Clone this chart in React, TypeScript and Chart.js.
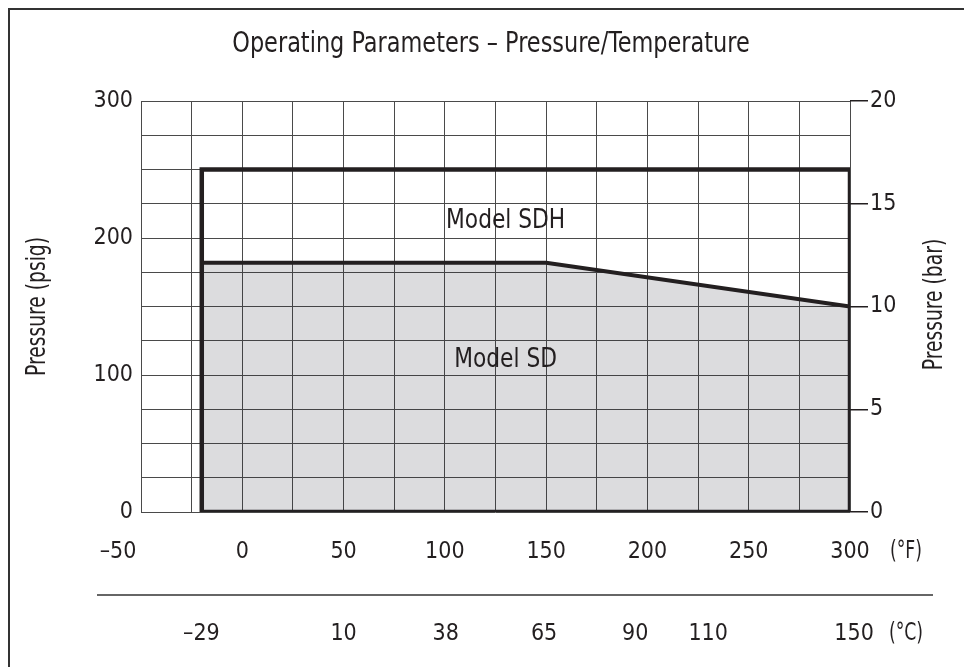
import React, { useEffect, useRef } from 'react';
import { Chart, registerables } from 'chart.js';

Chart.register(...registerables);

const FONT = "'Liberation Sans Narrow', 'DejaVu Sans Condensed', 'Arial Narrow', 'Roboto Condensed', sans-serif";
const INK = '#231f20';
const GRID = '#4a4a4a';

const titleText = 'Operating Parameters – Pressure/Temperature';
const leftAxisTitle = 'Pressure (psig)';
const rightAxisTitle = 'Pressure (bar)';
const fahrenheitUnit = '(°F)';
const celsiusUnit = '(°C)';

// Model SDH envelope (°F, psig)
const sdhTemps = [-20, -20, 300, 300, -20];
const sdhPressures = [0, 250, 250, 0, 0];

// Model SD limit line (°F, psig)
const sdTemps = [-20, 150, 300];
const sdPressures = [182, 182, 150];

// Tick labels
const fahrenheitTicks = [-50, 0, 50, 100, 150, 200, 250, 300];
const celsiusValues = [-29, 10, 38, 65, 90, 110, 150];
const celsiusLabels = ['–29', '10', '38', '65', '90', '110', '150'];
const psigTicks = [0, 100, 200, 300];
const barTicks = [0, 5, 10, 15, 20];

// Region labels
const regionLabels = ['Model SDH', 'Model SD'];
const regionLabelTemps = [130, 130];
const regionLabelPressures = [212, 111];

const fmt = (v: number) => (v < 0 ? '–' + Math.abs(v) : String(v));

function narrowText(ctx: CanvasRenderingContext2D, text: string, x: number, y: number, sx: number, rot = 0) {
  ctx.save();
  ctx.translate(x, y);
  if (rot) ctx.rotate(rot);
  ctx.scale(sx, 1);
  ctx.fillText(text, 0, 0);
  ctx.restore();
}

const decorPlugin = {
  id: 'decor',
  afterDraw(chart: any) {
    const { ctx, chartArea, scales } = chart;
    const x = scales.x;
    const y = scales.y;
    const xC = scales.xC;
    ctx.save();
    ctx.fillStyle = INK;
    ctx.textBaseline = 'middle';
    ctx.textAlign = 'center';

    // title
    ctx.font = `28px ${FONT}`;
    narrowText(ctx, titleText, 481, 35, 0.89);

    // region labels
    ctx.font = `26px ${FONT}`;
    regionLabels.forEach((t, i) => {
      narrowText(ctx, t, x.getPixelForValue(regionLabelTemps[i]), y.getPixelForValue(regionLabelPressures[i]), 0.93);
    });

    // axis titles (both read bottom-to-top)
    const midY = (chartArea.top + chartArea.bottom) / 2;
    ctx.font = `26px ${FONT}`;
    narrowText(ctx, leftAxisTitle, 28, midY, 0.8, -Math.PI / 2);
    narrowText(ctx, rightAxisTitle, chartArea.right + 85, midY - 2, 0.8, -Math.PI / 2);

    // units
    ctx.font = `24px ${FONT}`;
    narrowText(ctx, fahrenheitUnit, chartArea.right + 56, chartArea.bottom + 40, 0.8);
    narrowText(ctx, celsiusUnit, chartArea.right + 56, xC.top + 40, 0.8);

    // separator line between scales
    ctx.strokeStyle = '#333';
    ctx.lineWidth = 1.5;
    ctx.beginPath();
    ctx.moveTo(chartArea.left - 44, xC.top + 1);
    ctx.lineTo(chartArea.right + 83, xC.top + 1);
    ctx.stroke();
    ctx.restore();
  },
};

export default function App() {
  const ref = useRef<HTMLCanvasElement | null>(null);

  useEffect(() => {
    if (!ref.current) return;
    const tickFont = { family: FONT, size: 23 };
    const chart = new Chart(ref.current, {
      type: 'line',
      data: {
        datasets: [
          {
            label: 'Model SD',
            data: sdTemps.map((t, i) => ({ x: t, y: sdPressures[i] })),
            borderColor: INK,
            borderWidth: 4,
            backgroundColor: 'rgba(40,40,50,0.16)',
            fill: 'origin',
            pointRadius: 0,
            tension: 0,
            xAxisID: 'x',
            yAxisID: 'y',
          },
          {
            label: 'Model SDH',
            data: sdhTemps.map((t, i) => ({ x: t, y: sdhPressures[i] })),
            borderColor: INK,
            borderWidth: 4.5,
            fill: false,
            pointRadius: 0,
            tension: 0,
            borderCapStyle: 'square',
            borderJoinStyle: 'miter',
            xAxisID: 'x',
            yAxisID: 'y',
          },
        ] as any,
      },
      options: {
        responsive: false,
        animation: false,
        devicePixelRatio: 1,
        layout: { padding: { top: 91, left: 0, right: 0, bottom: 0 } },
        plugins: {
          legend: { display: false },
          tooltip: { enabled: false },
          title: { display: false },
        },
        scales: {
          x: {
            type: 'linear',
            position: 'bottom',
            min: -50,
            max: 300,
            afterFit: (s: any) => { s.height = 82; },
            ticks: {
              stepSize: 25,
              autoSkip: false,
              maxRotation: 0,
              padding: 26,
              font: tickFont,
              color: INK,
              callback: (v: any) => {
                const i = fahrenheitTicks.indexOf(Number(v));
                if (i < 0) return '';
                return i === 0 ? fmt(Number(v)) + '       ' : fmt(Number(v));
              },
            },
            grid: { color: GRID, lineWidth: 1, drawTicks: false },
            border: { display: false },
          },
          xC: {
            type: 'linear',
            position: 'bottom',
            min: -50,
            max: 300,
            afterBuildTicks: (s: any) => {
              s.ticks = celsiusValues.map((c) => ({ value: (c * 9) / 5 + 32 }));
            },
            afterFit: (s: any) => { s.height = 86; },
            ticks: {
              autoSkip: false,
              maxRotation: 0,
              padding: 26,
              font: tickFont,
              color: INK,
              callback: (_v: any, i: number) => celsiusLabels[i],
            },
            grid: { display: false, drawTicks: false },
            border: { display: false },
          },
          y: {
            type: 'linear',
            position: 'left',
            min: 0,
            max: 300,
            afterFit: (s: any) => { s.width = 131; },
            ticks: {
              stepSize: 25,
              autoSkip: false,
              padding: 8,
              font: tickFont,
              color: INK,
              callback: (v: any) => (psigTicks.includes(Number(v)) ? String(v) : ''),
            },
            grid: { color: GRID, lineWidth: 1, drawTicks: false },
            border: { display: false },
          },
          y2: {
            type: 'linear',
            position: 'right',
            min: 0,
            max: 20,
            afterFit: (s: any) => { s.width = 114; },
            ticks: {
              stepSize: 5,
              autoSkip: false,
              padding: 2,
              font: tickFont,
              color: INK,
              callback: (v: any) => (barTicks.includes(Number(v)) ? String(v) : ''),
            },
            grid: { drawOnChartArea: false, drawTicks: true, tickLength: 18, color: INK, lineWidth: 1.5 },
            border: { display: false },
          },
        },
      } as any,
      plugins: [decorPlugin],
    });
    return () => chart.destroy();
  }, []);

  return (
    <div
      style={{
        border: '2px solid #333',
        width: 954,
        height: 680,
        overflow: 'hidden',
        background: '#fff',
      }}
    >
      <canvas ref={ref} width={954} height={670} style={{ display: 'block' }} />
    </div>
  );
}
